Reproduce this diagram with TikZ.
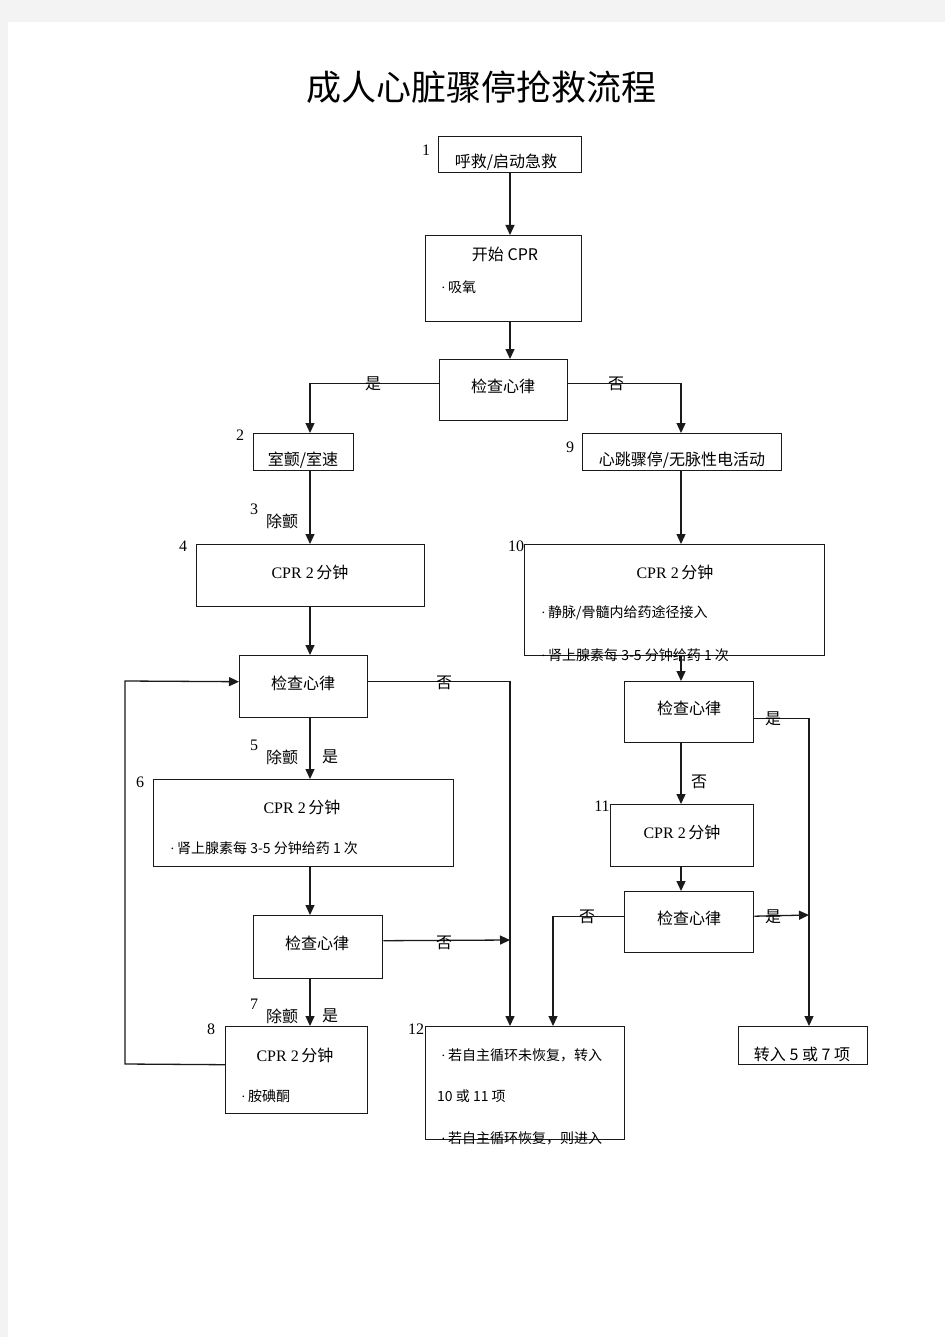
\documentclass[tikz,border=0pt]{standalone}
\usepackage{fontspec}
\setmainfont{Liberation Serif}
\newfontfamily\cjk{Noto Sans CJK SC}
\usetikzlibrary{arrows.meta}
\definecolor{pagebg}{HTML}{F3F3F3}
\definecolor{ink}{HTML}{1A1A1A}

\tikzset{
  box/.style={draw=ink, line width=1.4pt, inner sep=0pt, anchor=north west},
  arr/.style={draw=ink, line width=1.3pt, -{Triangle[length=10pt,width=9pt]}},
  num/.style={font=\fontsize{16}{16}\selectfont, inner sep=0pt},
  txt/.style={font=\cjk\fontsize{16}{16}\selectfont, inner sep=0pt},
  small/.style={font=\cjk\fontsize{14}{14}\selectfont, inner sep=0pt, anchor=west},
  branchtag/.style={font=\cjk\fontsize{16}{16}\selectfont, inner sep=0pt}
}
\newcommand{\cprtxt}{CPR\ 2\,{\cjk 分钟}}
\newcommand{\bul}{{\rmfamily\textperiodcentered}\,}

\begin{document}
\begin{tikzpicture}[x=1pt,y=-1pt]
\useasboundingbox (0,0) rectangle (945,1337);
\fill[pagebg] (0,0) rectangle (945,1337);
\fill[white] (8,22) rectangle (945,1337);
%
\node[font=\cjk\fontsize{35}{35}\selectfont, inner sep=0pt] (title) at (481,87) {成人心脏骤停抢救流程};
%
% columns and bends
\coordinate (cA) at (510,0);
\coordinate (cB) at (553,0);
\coordinate (cL) at (310,0);
\coordinate (cR) at (681,0);
\coordinate (cE) at (809,0);
\coordinate (loopB) at (125,1064);
\coordinate (loopT) at (125,681);
\coordinate (m3) at (510,940);
\coordinate (m5) at (809,915);
%
% boxes
\node[box, minimum width=143, minimum height=36] (b1) at (438,136) {};
\node[box, minimum width=156, minimum height=86] (b2) at (425,235) {};
\node[box, minimum width=128, minimum height=61] (k1) at (439,359) {};
\node[box, minimum width=100, minimum height=37] (b3) at (253,433) {};
\node[box, minimum width=199, minimum height=37] (b9) at (582,433) {};
\node[box, minimum width=228, minimum height=62] (b4) at (196,544) {};
\node[box, minimum width=300, minimum height=111] (b10) at (524,544) {};
\node[box, minimum width=128, minimum height=62] (k2) at (239,655) {};
\node[box, minimum width=129, minimum height=61] (k4) at (624,681) {};
\node[box, minimum width=300, minimum height=87] (b6) at (153,779) {};
\node[box, minimum width=143, minimum height=62] (b11) at (610,804) {};
\node[box, minimum width=129, minimum height=63] (k3) at (253,915) {};
\node[box, minimum width=129, minimum height=61] (k5) at (624,891) {};
\node[box, minimum width=142, minimum height=87] (b8) at (225,1026) {};
\node[box, minimum width=199, minimum height=113] (b12) at (425,1026) {};
\node[box, minimum width=129, minimum height=38] (b57) at (738,1026) {};
%
% box texts
\node[txt] (t1) at (506,162) {呼救/启动急救};
\node[txt] (t2) at (505,254) {{\cjk 开始} CPR};
\node[small] (t2a) at (441,287) {\bul 吸氧};
\node[txt] (tk1) at (503,386) {检查心律};
\node[txt] (t3) at (303,460) {室颤/室速};
\node[txt] (t9) at (682,460) {心跳骤停/无脉性电活动};
\node[num] (t4) at (310,572) {\cprtxt};
\node[num] (t10) at (675,572) {\cprtxt};
\node[small] (t10a) at (541,613) {\bul 静脉/骨髓内给药途径接入};
\node[small] (t10b) at (541,655) {\bul 肾上腺素每 3-5 分钟给药 1 次};
\node[txt] (tk2) at (303,683) {检查心律};
\node[txt] (tk4) at (689,708) {检查心律};
\node[num] (t6) at (302,807) {\cprtxt};
\node[small] (t6a) at (170,848) {\bul 肾上腺素每 3-5 分钟给药 1 次};
\node[num] (t11) at (682,832) {\cprtxt};
\node[txt] (tk3) at (317,943) {检查心律};
\node[txt] (tk5) at (689,918) {检查心律};
\node[num] (t8) at (295,1055) {\cprtxt};
\node[small] (t8a) at (241,1096) {\bul 胺碘酮};
\node[small] (t12a) at (441,1055) {\bul 若自主循环未恢复，转入};
\node[small] (t12b) at (437,1096) {10 或 11 项};
\node[small] (t12c) at (441,1138) {\bul 若自主循环恢复，则进入};
\node[txt] (t57) at (802,1054) {转入 5 或 7 项};
%
% item numbers
\node[num] (n1) at (426,150) {1};
\node[num] (n2) at (240,435) {2};
\node[num] (n3) at (254,509) {3};
\node[num] (n4) at (183,546) {4};
\node[num] (n5) at (254,745) {5};
\node[num] (n6) at (140,782) {6};
\node[num] (n7) at (254,1004) {7};
\node[num] (n8) at (211,1029) {8};
\node[num] (n9) at (570,447) {9};
\node[num] (n10) at (516,546) {10};
\node[num] (n11) at (602,806) {11};
\node[num] (n12) at (416,1029) {12};
%
% connectors
\draw[arr] (cA |- b1.south) -- (cA |- b2.north);
\draw[arr] (cA |- b2.south) -- (cA |- k1.north);
\draw[arr] ([yshift=6.5pt]k1.west) -| (cL |- b3.north);
\draw[arr] ([yshift=6.5pt]k1.east) -| (cR |- b9.north);
\draw[arr] (cL |- b3.south) -- (cL |- b4.north);
\draw[arr] (cR |- b9.south) -- (cR |- b10.north);
\draw[arr] (cL |- b4.south) -- (cL |- k2.north);
\draw[arr] (cR |- b10.south) -- (cR |- k4.north);
\draw[arr] ([yshift=5pt]k2.east) -| (cA |- b12.north);
\draw[arr] (cL |- k2.south) -- (cL |- b6.north);
\draw[arr] (cL |- b6.south) -- (cL |- k3.north);
\draw[arr] ([yshift=6.5pt]k3.east) -- (m3);
\draw[arr] (cL |- k3.south) -- (cL |- b8.north);
\draw[arr] ([yshift=5.5pt]b8.west) -- (loopB) -- (loopT) -- ([yshift=5pt]k2.west);
\draw[arr] ([yshift=-6.5pt]k4.east) -| (cE |- b57.north);
\draw[arr] (cR |- k4.south) -- (cR |- b11.north);
\draw[arr] (cR |- b11.south) -- (cR |- k5.north);
\draw[arr] ([yshift=6pt]k5.east) -- (m5);
\draw[arr] ([yshift=6pt]k5.west) -| (cB |- b12.north);
%
% branch marks
\node[branchtag] (y1) at (373,384) {是};
\node[branchtag] (f1) at (616,384) {否};
\node[branchtag] (d3) at (282,521) {除颤};
\node[branchtag] (f2) at (444,683) {否};
\node[branchtag] (d5) at (282,757) {除颤};
\node[branchtag] (y5) at (330,757) {是};
\node[branchtag] (f3) at (444,943) {否};
\node[branchtag] (d7) at (282,1016) {除颤};
\node[branchtag] (y7) at (330,1016) {是};
\node[branchtag] (y4) at (773,719) {是};
\node[branchtag] (f4) at (699,782) {否};
\node[branchtag] (y6) at (773,917) {是};
\node[branchtag] (f6) at (587,917) {否};
\end{tikzpicture}
\end{document}
